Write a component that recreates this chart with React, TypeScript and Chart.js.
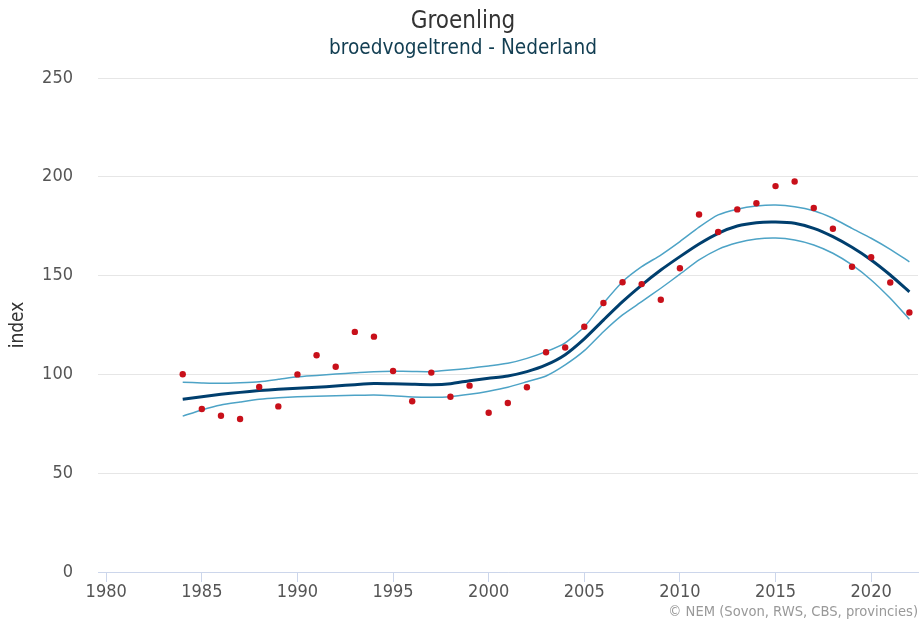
import React, { useEffect, useRef } from "react";
import { Chart, registerables } from "chart.js";

Chart.register(...registerables);

const FONT = '"DejaVu Sans Condensed", "DejaVu Sans", sans-serif';

const titleText = "Groenling";
const subtitleText = "broedvogeltrend - Nederland";
const yAxisTitle = "index";
const creditsText = "© NEM (Sovon, RWS, CBS, provincies)";

const years = [
  1984, 1985, 1986, 1987, 1988, 1989, 1990, 1991, 1992, 1993, 1994, 1995, 1996,
  1997, 1998, 1999, 2000, 2001, 2002, 2003, 2004, 2005, 2006, 2007, 2008, 2009,
  2010, 2011, 2012, 2013, 2014, 2015, 2016, 2017, 2018, 2019, 2020, 2021, 2022,
];

const indexValues = [
  100.1, 82.5, 79.1, 77.4, 93.6, 83.8, 100.0, 109.7, 103.9, 121.5, 119.1, 101.7,
  86.4, 100.9, 88.7, 94.3, 80.6, 85.5, 93.5, 111.2, 113.6, 124.1, 136.1, 146.6,
  145.7, 137.8, 153.7, 180.9, 172.1, 183.5, 186.6, 195.3, 197.6, 184.2, 173.7,
  154.5, 159.3, 146.5, 131.3,
];

const trendValues = [
  87.4, 88.7, 89.9, 90.9, 91.8, 92.5, 93.0, 93.5, 94.1, 94.8, 95.4, 95.3, 95.0,
  94.8, 95.3, 96.8, 98.0, 99.2, 101.4, 104.8, 110.0, 118.0, 127.5, 136.8, 145.2,
  152.8, 159.6, 166.0, 171.4, 175.1, 176.8, 177.1, 176.5, 173.9, 169.7, 164.3,
  157.9, 150.3, 141.8,
];

const upperValues = [
  96.0, 95.7, 95.5, 95.8, 96.3, 97.5, 98.8, 99.5, 100.2, 100.8, 101.4, 101.6,
  101.5, 101.4, 102.2, 103.1, 104.3, 105.6, 108.1, 111.5, 116.0, 124.1, 136.0,
  146.9, 154.5, 160.4, 167.2, 174.5, 180.7, 183.6, 185.2, 185.7, 184.9, 182.8,
  179.0, 173.9, 168.9, 163.3, 157.0,
];

const lowerValues = [
  78.9, 82.0, 84.5, 86.0, 87.4, 88.2, 88.7, 89.0, 89.2, 89.4, 89.6, 89.2, 88.6,
  88.4, 88.7, 89.9, 91.5, 93.5, 96.3, 99.2, 104.8, 112.0, 121.6, 130.1, 136.8,
  143.6, 150.7, 157.9, 163.3, 166.6, 168.5, 169.0, 168.0, 165.5, 161.3, 155.4,
  147.8, 138.5, 127.9,
];

const xTicks = [1980, 1985, 1990, 1995, 2000, 2005, 2010, 2015, 2020];
const yTicks = [0, 50, 100, 150, 200, 250];

const toXY = (vals: number[]) => vals.map((v, i) => ({ x: years[i], y: v }));

const textPlugin = {
  id: "customTexts",
  afterDraw(chart: any) {
    const ctx = chart.ctx as CanvasRenderingContext2D;
    ctx.save();
    ctx.textAlign = "center";
    ctx.textBaseline = "middle";
    ctx.fillStyle = "#333333";
    ctx.font = `24px ${FONT}`;
    ctx.fillText(titleText, 463, 22);
    ctx.fillStyle = "#123e52";
    ctx.font = `20.6px ${FONT}`;
    ctx.fillText(subtitleText, 463, 49);
    ctx.fillStyle = "#999999";
    ctx.font = `14.6px ${FONT}`;
    ctx.textAlign = "right";
    ctx.fillText(creditsText, 918, 612);
    ctx.save();
    ctx.translate(18, 325);
    ctx.rotate(-Math.PI / 2);
    ctx.textAlign = "center";
    ctx.fillStyle = "#333333";
    ctx.font = `19px ${FONT}`;
    ctx.fillText(yAxisTitle, 0, 0);
    ctx.restore();
    ctx.restore();
  },
};

export default function App() {
  const ref = useRef<HTMLCanvasElement | null>(null);

  useEffect(() => {
    document.body.style.margin = "0";
    if (!ref.current) return;
    Chart.defaults.font.family = FONT;
    const chart = new Chart(ref.current, {
      type: "line",
      data: {
        datasets: [
          {
            label: "index",
            data: toXY(indexValues),
            showLine: false,
            pointRadius: 3.2,
            pointBackgroundColor: "#c8101a",
            pointBorderColor: "#c8101a",
            pointBorderWidth: 0,
            order: 0,
          },
          {
            label: "trend",
            data: toXY(trendValues),
            borderColor: "#003f6e",
            borderWidth: 3,
            pointRadius: 0,
            tension: 0.2,
            fill: false,
            order: 1,
          },
          {
            label: "upper",
            data: toXY(upperValues),
            borderColor: "#4da3c6",
            borderWidth: 1.5,
            pointRadius: 0,
            tension: 0.2,
            fill: false,
            order: 2,
          },
          {
            label: "lower",
            data: toXY(lowerValues),
            borderColor: "#4da3c6",
            borderWidth: 1.5,
            pointRadius: 0,
            tension: 0.2,
            fill: false,
            order: 2,
          },
        ],
      },
      options: {
        responsive: false,
        animation: false,
        devicePixelRatio: 1,
        layout: { padding: { top: 78, right: 2, bottom: 0, left: 0 } },
        plugins: {
          legend: { display: false },
          tooltip: { enabled: false },
          title: { display: false },
        },
        scales: {
          x: {
            type: "linear",
            min: 1979.57,
            max: 2022.45,
            afterFit: (s: any) => {
              s.height = 53;
            },
            afterBuildTicks: (s: any) => {
              s.ticks = xTicks.map((v) => ({ value: v }));
            },
            grid: {
              drawOnChartArea: false,
              drawTicks: true,
              tickLength: 10,
              color: "#ccd6eb",
            },
            border: { display: true, color: "#ccd6eb", width: 1 },
            ticks: {
              color: "#555555",
              font: { size: 18, family: FONT },
              padding: 0,
              maxRotation: 0,
              callback: (v: any) => String(v),
            },
          },
          y: {
            min: 0,
            max: 250,
            afterFit: (s: any) => {
              s.width = 98;
            },
            afterBuildTicks: (s: any) => {
              s.ticks = yTicks.map((v) => ({ value: v }));
            },
            grid: { color: "#e6e6e6", drawTicks: false, lineWidth: 1 },
            border: { display: false },
            ticks: {
              color: "#555555",
              font: { size: 18, family: FONT },
              padding: 25,
            },
          },
        },
      },
      plugins: [textPlugin],
    });
    return () => chart.destroy();
  }, []);

  return (
    <div style={{ width: 922, height: 625 }}>
      <canvas ref={ref} width={922} height={625} style={{ display: "block", width: 922, height: 625 }} />
    </div>
  );
}
